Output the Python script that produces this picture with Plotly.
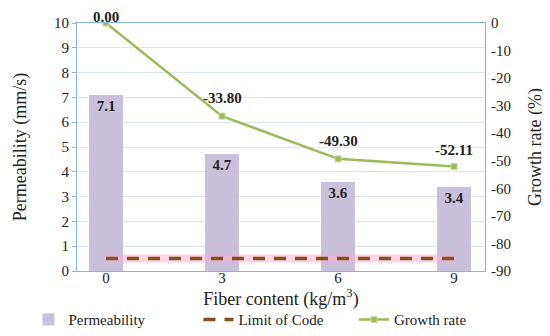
import plotly.graph_objects as go

fiber = [0, 3, 6, 9]
permeability = [7.1, 4.7, 3.6, 3.4]
perm_labels = ["7.1", "4.7", "3.6", "3.4"]
limit_code = [0.5, 0.5, 0.5, 0.5]
growth = [0.00, -33.80, -49.30, -52.11]
growth_labels = ["0.00", "-33.80", "-49.30", "-52.11"]
left_ticks = list(range(0, 11))
right_ticks = list(range(-90, 1, 10))
right_ticktext = [str(v) for v in right_ticks]

FONT = "Liberation Serif, serif"
BLUE = "#8db3e2"

fig = go.Figure()
fig.add_trace(go.Bar(
    x=fiber, y=permeability, name="Permeability", width=0.88,
    marker=dict(color="#c9c0dc", line=dict(width=0)),
    text=perm_labels, textposition="inside", insidetextanchor="end",
    textfont=dict(family=FONT, size=15, color="#222222", weight="bold"),
    textangle=0, legend="legend",
))
# glow behind limit line
fig.add_trace(go.Scatter(
    x=fiber, y=limit_code, mode="lines", showlegend=False, hoverinfo="skip",
    line=dict(color="rgba(255,170,210,0.5)", width=8),
))
fig.add_trace(go.Scatter(
    x=fiber, y=limit_code, mode="lines", name="Limit of Code",
    line=dict(color="#84501c", width=3.5, dash="12px,9px"), legend="legend",
))
fig.add_trace(go.Scatter(
    x=fiber, y=growth, mode="lines+markers", name="Growth rate", yaxis="y2",
    line=dict(color="#9bbb59", width=2.5),
    marker=dict(symbol="square", size=6, color="#9bbb59", line=dict(color="#c8dca0", width=1)),
    legend="legend2",
))

label_shift = [6, 18, 18, 17]
for xv, yv, t, s in zip(fiber, growth, growth_labels, label_shift):
    fig.add_annotation(
        x=xv, y=yv, yref="y2", text=t, showarrow=False, yshift=s,
        font=dict(family=FONT, size=15, color="#222222", weight="bold"),
    )

legend_common = dict(
    orientation="h", xanchor="left", y=-0.13, yanchor="top",
    font=dict(family=FONT, size=15, color="#222222"), entrywidth=125,
    traceorder="normal", itemwidth=30, bgcolor="rgba(0,0,0,0)",
)

fig.update_layout(
    width=550, height=336,
    margin=dict(l=69, r=73, t=15, b=73, autoexpand=False),
    paper_bgcolor="white", plot_bgcolor="white",
    font=dict(family=FONT, size=15, color="#222222"),
    bargap=0,
    xaxis=dict(
        range=[-0.75, 9.8], tickvals=fiber, ticktext=[str(v) for v in fiber],
        showgrid=False, zeroline=False, showline=True, linecolor=BLUE, mirror=True,
        ticks="", ticklen=0, ticklabelstandoff=-7,
        title=dict(text="Fiber content (kg/m<sup>3</sup>)", standoff=0),
        automargin=False,
    ),
    yaxis=dict(
        range=[0, 10], tickvals=left_ticks, showgrid=True, gridcolor="#dbe7f3",
        zeroline=False, showline=True, linecolor=BLUE, mirror=True,
        ticks="outside", ticklen=4, tickcolor=BLUE,
        title=dict(text="Permeability (mm/s)", standoff=22), automargin=False,
    ),
    yaxis2=dict(
        range=[-90, 0], tickvals=right_ticks, ticktext=right_ticktext,
        overlaying="y", side="right", ticklabelstandoff=5,
        showgrid=False, zeroline=False, showline=False, ticks="", ticklen=0,
        title=dict(text="Growth rate (%)", standoff=18), automargin=False,
    ),
    legend=dict(x=-0.119, **legend_common),
    legend2=dict(x=0.679, **legend_common),
    showlegend=True,
)

fig.write_html("out.html")
